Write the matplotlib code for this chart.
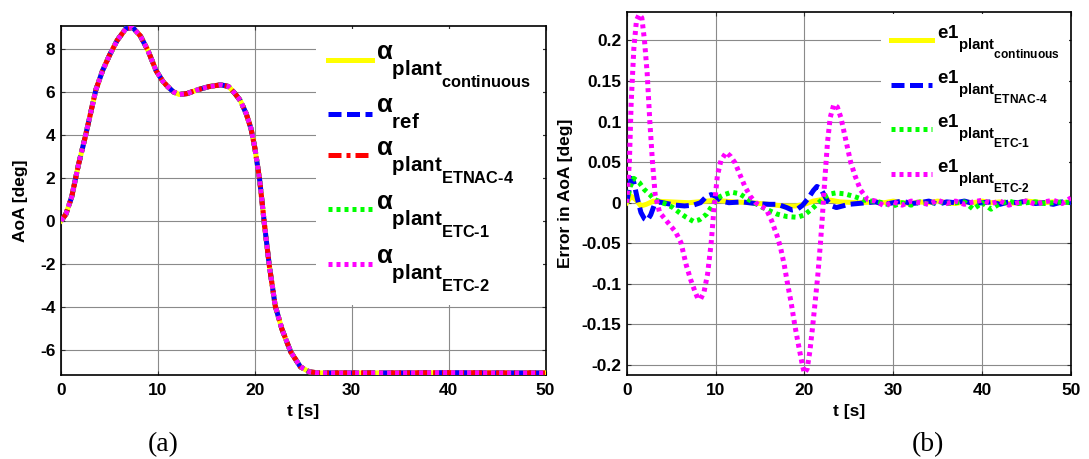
import matplotlib
matplotlib.use("Agg")
import numpy as np
import matplotlib.pyplot as plt
import matplotlib._mathtext as mathtext_engine
from matplotlib.legend_handler import HandlerLine2D
from matplotlib.lines import Line2D
from matplotlib.ticker import FormatStrFormatter, MultipleLocator

plt.rcParams['font.family'] = ['Liberation Sans', 'DejaVu Sans']
plt.rcParams['font.weight'] = 'bold'
plt.rcParams['axes.unicode_minus'] = False
plt.rcParams['mathtext.fontset'] = 'custom'
plt.rcParams['mathtext.rm'] = 'Liberation Sans:bold'
plt.rcParams['mathtext.it'] = 'Liberation Sans:bold'
plt.rcParams['mathtext.bf'] = 'Liberation Sans:bold'

# bigger, lower subscripts in the legend labels
mathtext_engine.SHRINK_FACTOR = 0.8
mathtext_engine.FontConstantsBase.sub1 = 1.15

# angle of attack history (all runs lie on top of each other)
t_a = [0, 0.5, 1.1, 1.8, 2.5, 3.0, 3.6, 4.3, 5.0, 5.8, 6.7, 7.4, 8.2, 9.0, 9.8,
       10.5, 11.0, 11.6, 12.2, 13.0, 14.1, 15.3, 16.5, 17.3, 17.9, 18.5, 19.1,
       19.6, 20.0, 20.5, 21.0, 21.5, 22.1, 22.8, 23.7, 24.7, 25.6, 26.5, 30,
       35, 40, 45, 50]
alpha = [0, 0.3, 1.1, 2.6, 3.9, 4.9, 6.1, 7.0, 7.7, 8.4, 8.95, 9.0, 8.6, 7.9,
         7.0, 6.5, 6.25, 6.0, 5.88, 5.92, 6.1, 6.25, 6.33, 6.25, 5.95, 5.6, 5.0,
         4.3, 3.4, 1.9, -0.2, -2.1, -3.95, -5.05, -6.1, -6.8, -7.03, -7.08,
         -7.08, -7.08, -7.07, -7.08, -7.08]

# tracking error
t_tail = list(range(28, 51))

t_cont = [0, 0.5, 1.0, 1.6, 2.2, 3, 5, 7, 9, 10, 12, 14, 16, 17.5, 19, 20, 21,
          22, 23, 24, 26] + t_tail
e_cont = [0, 0.008, 0.004, -0.004, -0.002, 0.002, 0.001, 0.0, 0.002, 0.003,
          0.001, 0.0, -0.002, -0.004, -0.004, -0.002, 0.002, 0.004, 0.003,
          0.001, 0.0,
          0.001, 0.0, 0.002, 0.0, -0.001, 0.001, 0.0, 0.002, 0.0, -0.001,
          0.001, 0.0, 0.002, 0.0, 0.001, -0.001, 0.0, 0.002, 0.001, 0.0,
          0.001, 0.0, 0.001]

t_etnac = [0, 0.3, 0.5, 0.8, 1.2, 1.6, 2.0, 2.3, 2.7, 3.1, 3.6, 4.5, 5.5, 6.5,
           7.5, 8.3, 9.0, 9.5, 10.0, 10.6, 11.5, 13, 14.5, 16, 17, 18, 18.6,
           19.2, 19.8, 20.4, 21.0, 21.4, 21.8, 22.2, 22.6, 23.1, 23.6, 24.3,
           25, 26, 27] + t_tail
e_etnac = [0, 0.018, 0.03, 0.025, 0.005, -0.012, -0.02, -0.022, -0.015, -0.003,
           0.001, -0.001, -0.003, -0.004, -0.003, 0.0, 0.008, 0.01, 0.008,
           0.002, 0.0, 0.001, -0.001, -0.002, -0.002, -0.006, -0.009, -0.008,
           -0.003, 0.005, 0.015, 0.02, 0.018, 0.01, 0.002, -0.004, -0.006,
           -0.004, -0.002, -0.001, 0.0,
           0.001, -0.002, 0.0, 0.002, -0.001, 0.0, 0.002, -0.002, 0.001, 0.0,
           0.002, -0.001, 0.0, 0.001, -0.002, 0.001, 0.0, 0.002, -0.001, 0.0,
           -0.002, 0.001, 0.0]

t_etc1 = [0, 0.4, 0.8, 1.4, 2.0, 2.6, 3.1, 3.8, 4.5, 5.2, 5.9, 6.7, 7.5, 8.2,
          9.0, 9.6, 10.2, 11.0, 11.8, 12.7, 13.7, 14.5, 15.3, 16.1, 16.9, 18.0,
          19.2, 20.0, 20.8, 21.6, 22.4, 23.0, 23.5, 24.5, 25.5, 26.3,
          27.1] + t_tail
e_etc1 = [0, 0.02, 0.03, 0.025, 0.016, 0.01, 0.004, 0.001, -0.002, -0.006,
          -0.012, -0.018, -0.023, -0.021, -0.014, -0.004, 0.006, 0.01, 0.013,
          0.011, 0.004, -0.001, -0.006, -0.01, -0.014, -0.017, -0.018, -0.015,
          -0.008, 0.0, 0.008, 0.011, 0.012, 0.011, 0.008, 0.005, 0.002,
          0.002, -0.001, -0.004, 0.0, -0.003, 0.001, -0.002, 0.002, -0.001,
          0.0, 0.001, -0.008, 0.0, -0.008, -0.001, 0.002, -0.001, 0.0, 0.001,
          -0.001, 0.0, 0.001, 0.0]

t_etc2 = [0, 0.3, 0.5, 0.8, 1.1, 1.4, 1.7, 2.0, 2.3, 2.6, 2.9, 3.2, 3.7, 4.3,
          4.9, 5.5, 6.1, 6.7, 7.2, 7.7, 8.0, 8.3, 8.7, 9.1, 9.5, 9.8, 10.2,
          10.6, 11.2, 11.7, 12.2, 12.8, 13.3, 13.9, 14.5, 15.1, 15.7, 16.3,
          16.9, 17.3, 17.7, 18.1, 18.5, 18.9, 19.2, 19.5, 19.8, 20.0, 20.3,
          20.6, 20.9, 21.2, 21.5, 21.8, 22.0, 22.3, 22.6, 22.9, 23.3, 23.7,
          24.1, 24.7, 25.2, 25.7, 26.3, 27.1] + t_tail
e_etc2 = [0, 0.05, 0.123, 0.19, 0.225, 0.232, 0.228, 0.2, 0.16, 0.1,
          0.05, 0.01, -0.012, -0.02, -0.028, -0.036, -0.049, -0.077, -0.095,
          -0.11, -0.118, -0.119, -0.11, -0.088, -0.05, -0.01, 0.033, 0.052,
          0.062, 0.057, 0.049, 0.033, 0.02, 0.008, 0.0, -0.004, -0.008,
          -0.022, -0.04, -0.055, -0.075, -0.1, -0.123, -0.15, -0.168, -0.185,
          -0.202, -0.21, -0.205, -0.184, -0.155, -0.123, -0.09, -0.05, -0.02,
          0.03, 0.075, 0.105, 0.121, 0.118, 0.105, 0.075, 0.05, 0.033, 0.016,
          0.004,
          0.002, -0.004, 0.001, -0.003, 0.002, 0.0, -0.002, 0.003, -0.001,
          0.002, -0.002, 0.001, 0.003, -0.001, 0.002, -0.003, 0.0, 0.002,
          -0.002, 0.001, 0.003, -0.001, 0.006]

alpha_labels = [r'$\alpha_{plant_{continuous}}$',
                r'$\alpha_{ref}$',
                r'$\alpha_{plant_{\text{ETNAC-4}}}$',
                r'$\alpha_{plant_{\text{ETC-1}}}$',
                r'$\alpha_{plant_{\text{ETC-2}}}$']
err_labels = [r'$e1_{plant_{continuous}}$',
              r'$e1_{plant_{\text{ETNAC-4}}}$',
              r'$e1_{plant_{\text{ETC-1}}}$',
              r'$e1_{plant_{\text{ETC-2}}}$']

# line styles: solid / dashed / dash-dot / dotted / dotted
styles = {
    'cont': dict(color='#ffff00', lw=3.6, ls='-'),
    'ref': dict(color='#0000ff', lw=3.6, dashes=(2.6, 1.1)),
    'etnac': dict(color='#ff0000', lw=3.6, dashes=(2.6, 1.0, 0.8, 1.0)),
    'etc1': dict(color='#00ff00', lw=3.6, dashes=(0.8, 0.8)),
    'etc2': dict(color='#ff00ff', lw=3.6, dashes=(0.8, 0.8)),
}


class BaselineLineHandler(HandlerLine2D):
    """Legend line sitting on the label baseline instead of mid-height."""

    def __init__(self, drop, **kw):
        super().__init__(**kw)
        self.drop = drop

    def create_artists(self, legend, orig_handle, xdescent, ydescent,
                       width, height, fontsize, trans):
        arts = super().create_artists(legend, orig_handle, xdescent,
                                      ydescent, width, height, fontsize,
                                      trans)
        for a in arts:
            a.set_ydata(np.asarray(a.get_ydata()) - self.drop * fontsize)
        return arts


fig = plt.figure(figsize=(10.89, 4.59), dpi=100)
ax1 = fig.add_axes([0.056, 0.183, 0.445, 0.760])
ax2 = fig.add_axes([0.5755, 0.1837, 0.408, 0.790])


def style_axes(ax):
    ax.grid(True, color='#8a8a8a', lw=0.8)
    ax.set_axisbelow(True)
    ax.tick_params(direction='in', length=3, width=0.8, top=True, right=True,
                   labelsize=12.5, color='#303030')
    ax.tick_params(axis='x', pad=6)
    ax.tick_params(axis='y', pad=4)
    for s in ax.spines.values():
        s.set_linewidth(1.2)


# (a) angle of attack
for key, lab in zip(['cont', 'ref', 'etnac', 'etc1', 'etc2'], alpha_labels):
    ax1.plot(t_a, alpha, label=lab, dash_capstyle='butt', zorder=3,
             **styles[key])
ax1.set_xlim(0, 50)
ax1.set_ylim(-7.18, 9.06)
ax1.xaxis.set_major_locator(MultipleLocator(10))
ax1.yaxis.set_major_locator(MultipleLocator(2))
style_axes(ax1)
ax1.set_xlabel('t [s]', fontsize=12.5, fontweight='bold')
ax1.set_ylabel('AoA [deg]', fontsize=12.5, fontweight='bold')
ax1.xaxis.set_label_coords(0.5, -0.083)
ax1.yaxis.set_label_coords(-0.068, 0.5)
leg1 = ax1.legend(loc='upper right', fontsize=18.5, handlelength=1.72,
                  handletextpad=0.18, labelspacing=0.16, borderaxespad=0.1,
                  borderpad=0.45, frameon=True, fancybox=False, framealpha=1,
                  edgecolor='none', facecolor='white',
                  handler_map={Line2D: BaselineLineHandler(0.38)})
leg1.set_zorder(2.6)

# (b) error in angle of attack
err_series = [(t_cont, e_cont, 'cont'), (t_etnac, e_etnac, 'ref'),
              (t_etc1, e_etc1, 'etc1'), (t_etc2, e_etc2, 'etc2')]
for (tt, ee, key), lab in zip(err_series, err_labels):
    ax2.plot(tt, ee, label=lab, dash_capstyle='butt', zorder=3,
             **styles[key])
ax2.set_xlim(0, 50)
ax2.set_ylim(-0.212, 0.235)
ax2.xaxis.set_major_locator(MultipleLocator(10))
ax2.yaxis.set_major_locator(MultipleLocator(0.05))
ax2.yaxis.set_major_formatter(FormatStrFormatter('%g'))
style_axes(ax2)
ax2.set_xlabel('t [s]', fontsize=12.5, fontweight='bold')
ax2.set_ylabel('Error in AoA [deg]', fontsize=12.5, fontweight='bold')
ax2.xaxis.set_label_coords(0.5, -0.081)
ax2.yaxis.set_label_coords(-0.121, 0.5)
leg2 = ax2.legend(loc='upper right', fontsize=13.5, handlelength=2.19,
                  handletextpad=0.27, labelspacing=0.37, borderaxespad=0.1,
                  borderpad=0.5, frameon=True, fancybox=False, framealpha=1,
                  edgecolor='none', facecolor='white',
                  handler_map={Line2D: BaselineLineHandler(0.45)})
leg2.set_zorder(2.6)

fig.text(163.6 / 1089, 1 - 445 / 459, '(a)', family='Liberation Serif',
         fontweight='normal', fontsize=20, ha='center', va='center')
fig.text(928 / 1089, 1 - 445 / 459, '(b)', family='Liberation Serif',
         fontweight='normal', fontsize=20, ha='center', va='center')

fig.savefig('out.png', dpi=100)
